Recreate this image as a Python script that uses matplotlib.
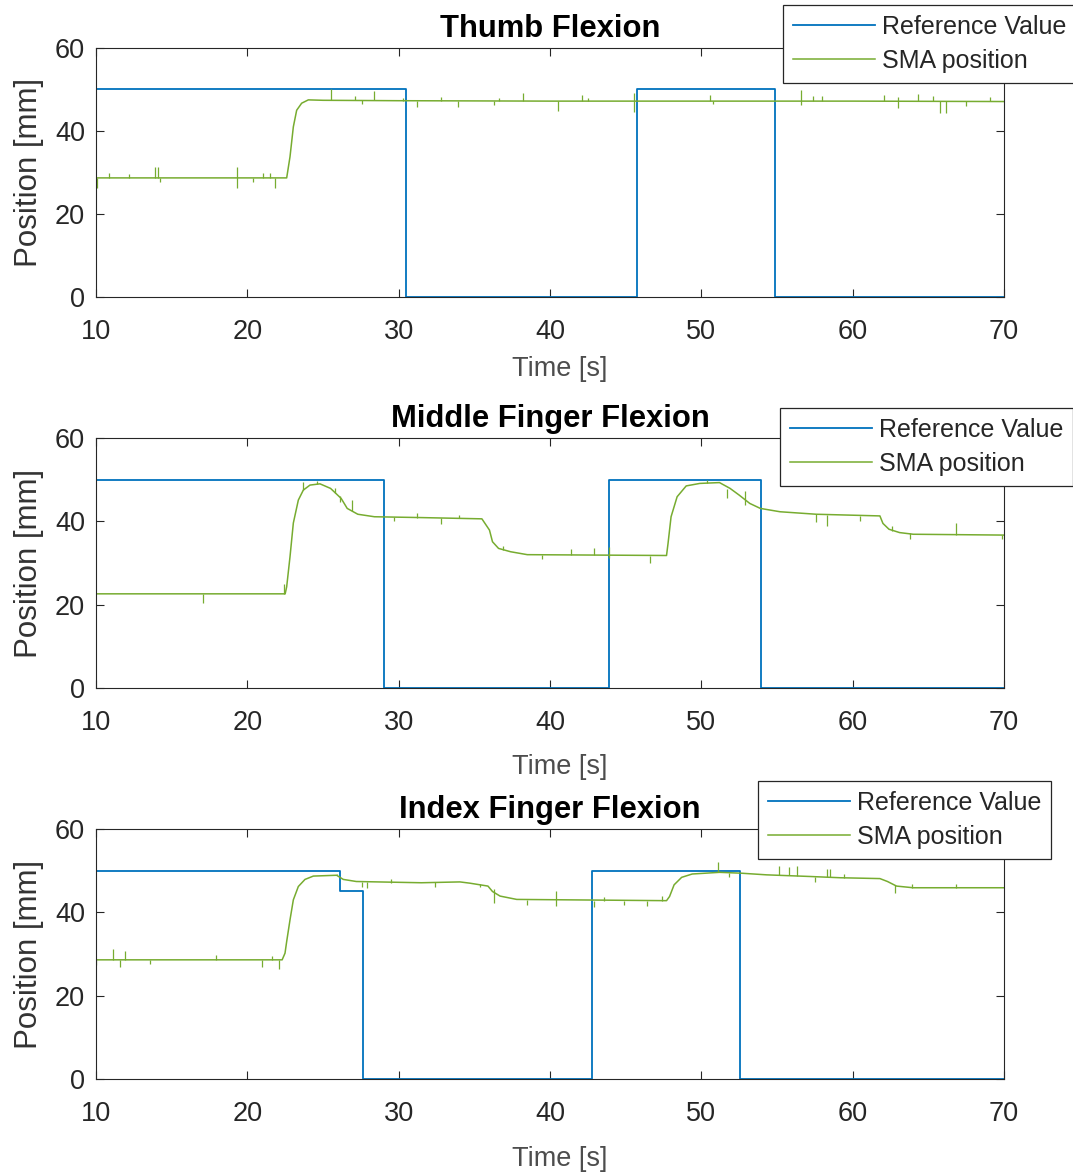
import matplotlib
matplotlib.use("Agg")
import matplotlib.pyplot as plt
import numpy as np

plt.rcParams['font.family'] = ['Liberation Sans', 'DejaVu Sans']

# ---------------- data ----------------
titles = ["Thumb Flexion", "Middle Finger Flexion", "Index Finger Flexion"]
legend_labels = ["Reference Value", "SMA position"]
xticks = [10, 20, 30, 40, 50, 60, 70]
yticks = [0, 20, 40, 60]

# Reference (step, 'post')
thumb_ref_t = [10, 30.5, 45.75, 54.9, 70]
thumb_ref_v = [50, 0, 50, 0, 0]
middle_ref_t = [10, 29.0, 43.9, 53.95, 70]
middle_ref_v = [50, 0, 50, 0, 0]
index_ref_t = [10, 26.1, 27.65, 42.75, 52.55, 70]
index_ref_v = [50, 45.2, 0, 50, 0, 0]

# SMA position (trend)
thumb_sma_t = [10, 22.6, 22.82, 23.04, 23.26, 23.59, 24.03, 25, 30, 40, 50, 60, 70]
thumb_sma_v = [28.7, 28.7, 33.8, 41.0, 45.0, 46.7, 47.5, 47.4, 47.3, 47.2, 47.2, 47.2, 47.1]

middle_sma_t = [10, 22.5, 22.6, 22.82, 23.04, 23.37, 23.7, 24.14, 24.8, 25.5,
                26.2, 26.6, 27.3, 28.4, 31.5, 35.5, 36.0, 36.2, 36.6, 37.4,
                38.5, 47.7, 47.8, 48.0, 48.4, 49.0, 49.9, 51.2, 51.9, 52.5,
                53.2, 53.9, 55.2, 57.6, 61.8, 62.0, 62.4, 63.1, 64.0, 70]
middle_sma_v = [22.6, 22.6, 24.3, 31.5, 39.6, 45.1, 47.5, 48.7, 49.0, 47.9,
                45.5, 43.1, 41.7, 41.1, 40.9, 40.6, 37.9, 35.1, 33.5, 32.7,
                32.0, 31.8, 34.7, 41.1, 45.9, 48.5, 49.1, 49.3, 47.9, 46.3,
                44.3, 43.1, 42.3, 41.7, 41.3, 39.5, 38.1, 37.3, 36.9, 36.7]

index_sma_t = [10, 22.3, 22.49, 22.6, 22.82, 23.04, 23.37, 23.81, 24.36, 25.9,
               26.34, 27.2, 31.5, 34.05, 34.7, 35.9, 36.2, 36.7, 37.8, 47.7,
               47.9, 48.2, 48.7, 49.4, 51.2, 52.6, 54.3, 57.2, 59.2, 61.8,
               62.3, 62.9, 64.0, 70]
index_sma_v = [28.6, 28.6, 30.2, 33.0, 38.2, 43.0, 46.2, 47.9, 48.7, 48.9,
               47.9, 47.4, 47.1, 47.3, 47.0, 46.3, 45.0, 43.9, 43.1, 42.8,
               43.8, 46.6, 48.4, 49.2, 49.6, 49.4, 49.0, 48.6, 48.3, 48.1,
               47.4, 46.3, 45.9, 45.9]

# Sensor spikes: time, low, high
thumb_spk_t = [10.05, 10.86, 12.2, 13.9, 14.1, 14.2, 19.3, 20.4, 21.05, 21.5, 21.8,
               25.5, 27.1, 27.6, 28.4, 30.3, 31.2, 32.8, 33.9, 36.3, 36.6, 38.2,
               40.5, 42.1, 42.5, 45.55, 50.6, 50.8, 56.6, 57.4, 58.0, 62.1, 63.0,
               64.3, 65.3, 65.8, 66.2, 67.5, 69.1]
thumb_spk_lo = [26.3, 28.7, 28.7, 28.7, 28.7, 27.8, 26.3, 27.8, 28.7, 28.7, 26.2,
                47.5, 47.4, 46.5, 47.4, 47.3, 45.9, 47.3, 45.9, 46.3, 47.3, 47.3,
                44.7, 47.2, 47.2, 44.5, 47.2, 46.6, 46.2, 47.2, 47.2, 47.2, 45.5,
                47.2, 47.2, 44.3, 44.3, 46.0, 47.2]
thumb_spk_hi = [28.7, 30.0, 29.6, 31.4, 31.4, 28.7, 31.4, 28.7, 30.0, 29.8, 28.7,
                50.0, 48.5, 47.4, 49.6, 48.0, 47.3, 48.3, 47.3, 47.3, 47.9, 49.1,
                47.2, 48.6, 47.9, 49.1, 48.7, 47.2, 49.9, 48.5, 48.5, 48.7, 48.3,
                49.0, 48.5, 47.2, 47.2, 47.2, 48.3]

middle_spk_t = [17.1, 22.4, 23.7, 24.6, 25.8, 26.1, 26.9, 29.7, 31.2, 32.8, 34.0,
                36.9, 39.5, 41.4, 42.9, 43.9, 46.6, 50.4, 51.7, 52.9, 57.6, 58.3,
                60.5, 62.6, 63.8, 66.8, 69.9]
middle_spk_lo = [20.3, 22.6, 47.5, 48.9, 46.8, 44.7, 42.6, 40.2, 40.9, 39.4, 40.7,
                 33.2, 31.0, 31.9, 31.9, 31.1, 30.1, 49.3, 45.5, 44.0, 39.9, 38.9,
                 40.0, 37.7, 35.7, 36.8, 35.8]
middle_spk_hi = [22.6, 25.0, 49.5, 49.8, 48.0, 46.2, 45.1, 41.0, 41.9, 40.8, 41.5,
                 34.2, 31.9, 33.3, 33.5, 33.9, 31.8, 50.0, 47.8, 47.4, 41.7, 41.6,
                 41.4, 38.9, 37.2, 39.5, 36.7]

index_spk_t = [10.0, 11.15, 11.6, 11.9, 13.6, 17.9, 21.0, 21.6, 22.1, 25.9, 27.6,
               27.9, 29.5, 32.4, 35.4, 36.3, 38.5, 40.4, 42.9, 43.6, 44.9, 46.4,
               47.4, 51.1, 51.8, 55.1, 55.8, 56.3, 57.5, 58.3, 58.5, 59.4, 62.8,
               63.9, 66.8]
index_spk_lo = [27.4, 28.6, 27.0, 28.6, 27.5, 28.6, 27.0, 28.6, 26.3, 48.9, 46.2,
                45.8, 47.1, 46.2, 46.0, 42.3, 41.8, 41.6, 41.2, 42.8, 41.8, 41.6,
                42.8, 49.6, 48.6, 48.9, 48.9, 48.7, 47.4, 48.5, 48.5, 48.3, 44.7,
                45.9, 45.9]
index_spk_hi = [28.6, 31.1, 28.6, 30.7, 28.6, 29.8, 28.6, 29.6, 28.6, 49.3, 47.4,
                47.3, 48.0, 47.2, 46.8, 45.5, 42.9, 45.2, 42.8, 43.6, 42.8, 42.8,
                43.9, 52.2, 49.5, 51.1, 50.8, 51.1, 48.6, 50.3, 50.3, 49.3, 46.5,
                46.9, 46.8]

panels = [
    (thumb_ref_t, thumb_ref_v, thumb_sma_t, thumb_sma_v, thumb_spk_t, thumb_spk_lo, thumb_spk_hi),
    (middle_ref_t, middle_ref_v, middle_sma_t, middle_sma_v, middle_spk_t, middle_spk_lo, middle_spk_hi),
    (index_ref_t, index_ref_v, index_sma_t, index_sma_v, index_spk_t, index_spk_lo, index_spk_hi),
]

# ---------------- style / layout ----------------
W, H = 1073, 1174
fig = plt.figure(figsize=(W / 100, H / 100), dpi=100)

blue = '#0072BD'
green = '#77AC30'
dark = '#262626'

ax_left = 96 / W
ax_width = (1004 - 96) / W
ax_bottoms_px = [297, 688, 1079]
ax_tops_px = [48, 438, 829]
xlabel_center_px = [369, 767, 1159]
legend_anchor_px = [(783, 5), (780, 408), (758, 781)]

for i, (rt, rv, st, sv, kt, klo, khi) in enumerate(panels):
    b = (H - ax_bottoms_px[i]) / H
    hpx = ax_bottoms_px[i] - ax_tops_px[i]
    ax = fig.add_axes([ax_left, b, ax_width, hpx / H])
    l1, = ax.step(rt, rv, where='post', color=blue, lw=1.3, label=legend_labels[0])
    l2, = ax.plot(st, sv, color=green, lw=1.1, label=legend_labels[1])
    ax.vlines(kt, klo, khi, color=green, lw=0.9)
    ax.set_xlim(10, 70)
    ax.set_ylim(0, 60)
    ax.set_xticks(xticks)
    ax.set_yticks(yticks)
    ax.tick_params(direction='in', length=6, width=0.8, top=True, right=True,
                   labelsize=19.5, colors=dark)
    ax.tick_params(axis='x', pad=16)
    ax.tick_params(axis='y', pad=8)
    for sp in ax.spines.values():
        sp.set_color(dark)
        sp.set_linewidth(0.8)
    ax.set_title(titles[i], fontsize=22.3, fontweight='bold', color='black', pad=8)
    ax.set_xlabel("Time [s]", fontsize=19.5, color='#4d4d4d', va='center')
    ax.xaxis.set_label_coords(0.511, -(xlabel_center_px[i] - ax_bottoms_px[i]) / hpx)
    ax.set_ylabel("Position [mm]", fontsize=22.5, color='#333333')
    ax.yaxis.set_label_coords(-0.057, 0.5)
    lx, ly = legend_anchor_px[i]
    leg = ax.legend(handles=[l1, l2], loc='upper left',
                    bbox_to_anchor=(lx / W, (H - ly) / H), bbox_transform=fig.transFigure,
                    borderaxespad=0, fontsize=18, frameon=True, fancybox=False,
                    edgecolor=dark, framealpha=1, borderpad=0.39, labelspacing=0.4,
                    handlelength=3.3, handletextpad=0.28)
    leg.get_frame().set_linewidth(0.9)
    for t in leg.get_texts():
        t.set_color(dark)

fig.savefig("out.png", dpi=100)
